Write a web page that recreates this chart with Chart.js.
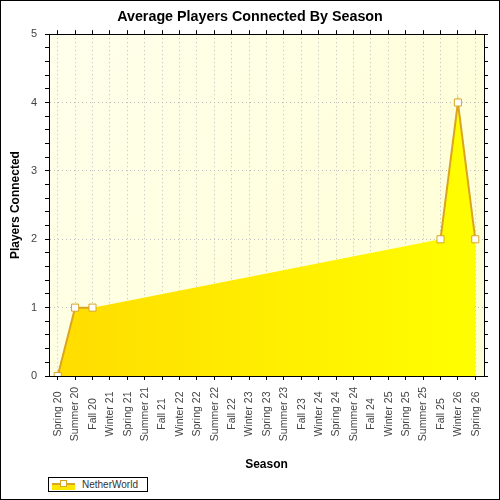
<!DOCTYPE html>
<html>
<head>
<meta charset="utf-8">
<script src="https://cdn.jsdelivr.net/npm/chart.js@4"></script>
<style>
html,body{margin:0;padding:0;background:#fff;}
#wrap{position:relative;width:500px;height:500px;}
canvas{display:block;}
#legend{position:absolute;left:48px;top:477px;width:98px;height:13px;border:1px solid #000;background:#fff;font:10px "Liberation Sans",Arial,sans-serif;color:#333;}
#legend .fill{position:absolute;left:3px;top:7px;width:23px;height:5px;background:#FFE600;}
#legend .line{position:absolute;left:3px;top:5px;width:23px;height:2px;background:#DAA520;}
#legend .mark{position:absolute;left:11px;top:2px;width:5px;height:5px;background:#fff;border:1px solid #DAA520;}
#legend .txt{position:absolute;left:33px;top:0;line-height:13px;}
</style>
</head>
<body>
<div id="wrap">
<canvas id="c" width="500" height="500"></canvas>
<div id="legend"><span class="fill"></span><span class="line"></span><span class="mark"></span><span class="txt">NetherWorld</span></div>
</div>
<script>
const chartTitle = 'Average Players Connected By Season';
const xTitle = 'Season';
const yTitle = 'Players Connected';
const seriesName = 'NetherWorld';
const seasons = ['Spring 20','Summer 20','Fall 20','Winter 21','Spring 21','Summer 21','Fall 21','Winter 22','Spring 22','Summer 22','Fall 22','Winter 23','Spring 23','Summer 23','Fall 23','Winter 24','Spring 24','Summer 24','Fall 24','Winter 25','Spring 25','Summer 25','Fall 25','Winter 26','Spring 26'];
const players = [0,1,1,null,null,null,null,null,null,null,null,null,null,null,null,null,null,null,null,null,null,null,2,4,2];
const yMin = 0, yMax = 5, yMinorStep = 0.2;

const FONT = '"Liberation Sans", Arial, sans-serif';
const isMajor = v => Math.abs(v - Math.round(v)) < 1e-6;

const framePlugin = {
  id: 'frame',
  beforeDraw(chart) {
    const ctx = chart.ctx, a = chart.chartArea;
    ctx.save();
    ctx.fillStyle = '#fff';
    ctx.fillRect(0, 0, chart.width, chart.height);
    const g = ctx.createLinearGradient(a.left, a.top, a.right, a.bottom);
    g.addColorStop(0, 'rgb(255,255,236)');
    g.addColorStop(1, 'rgb(255,255,212)');
    ctx.fillStyle = g;
    ctx.fillRect(a.left, a.top, a.right - a.left, a.bottom - a.top);
    ctx.restore();
  },
  afterDraw(chart) {
    const ctx = chart.ctx;
    ctx.save();
    ctx.strokeStyle = '#000';
    ctx.lineWidth = 1;
    ctx.strokeRect(0.5, 0.5, chart.width - 1, chart.height - 1);
    const sc = chart.scales.x;
    ctx.font = '10.5px ' + FONT;
    ctx.fillStyle = '#444';
    ctx.textAlign = 'center';
    ctx.textBaseline = 'middle';
    seasons.forEach((s, i) => {
      const x = sc.getPixelForValue(i);
      ctx.save();
      ctx.translate(x + 0.5, sc.top + 38);
      ctx.rotate(-Math.PI / 2);
      ctx.fillText(s, 0, 0);
      ctx.restore();
    });
    ctx.restore();
  }
};

const dotted = [1, 3];

new Chart(document.getElementById('c'), {
  type: 'line',
  data: {
    labels: seasons,
    datasets: [{
      label: seriesName,
      data: players,
      spanGaps: false,
      tension: 0,
      fill: false,
      borderColor: '#DAA520',
      borderWidth: 2,
      pointStyle: 'rect',
      pointRadius: 5,
      pointHoverRadius: 5,
      pointBackgroundColor: '#fff',
      pointBorderColor: '#DAA520',
      pointBorderWidth: 1,
      order: 0
    }, {
      label: seriesName + ' area',
      data: players,
      spanGaps: true,
      tension: 0,
      fill: 'origin',
      borderWidth: 0,
      borderColor: 'rgba(0,0,0,0)',
      pointRadius: 0,
      pointHoverRadius: 0,
      backgroundColor: (c) => {
        const a = c.chart.chartArea;
        if (!a) return '#FFEE00';
        const g = c.chart.ctx.createLinearGradient(a.left, 0, a.right, 0);
        g.addColorStop(0, '#FFDC00');
        g.addColorStop(1, '#FFFF00');
        return g;
      },
      order: 1
    }]
  },
  options: {
    responsive: false,
    animation: false,
    layout: { padding: { left: 0, right: 0, top: 0, bottom: 26 } },
    plugins: {
      legend: { display: false },
      tooltip: { enabled: false },
      title: {
        display: true,
        text: chartTitle,
        color: '#000',
        font: { family: FONT, size: 14.3, weight: 'bold' },
        padding: { top: 8.5, bottom: 4.5 }
      }
    },
    scales: {
      x: {
        type: 'category',
        position: 'bottom',
        offset: true,
        grid: { offset: false, color: '#BDBDBD', tickColor: '#000', tickLength: 4, lineWidth: 1 },
        border: { color: '#000', dash: dotted },
        ticks: { display: false },
        title: { display: true, text: xTitle, color: '#000', font: { family: FONT, size: 12, weight: 'bold' }, padding: { top: 0, bottom: 2 } },
        afterFit: s => { s.height = 98; }
      },
      x2: {
        type: 'category',
        labels: seasons,
        position: 'top',
        offset: true,
        grid: { offset: false, drawOnChartArea: false, tickColor: '#000', tickLength: 4 },
        border: { color: '#000' },
        ticks: { display: false },
        afterFit: s => { s.height = 4; }
      },
      y: {
        type: 'linear',
        position: 'left',
        min: yMin,
        max: yMax,
        grid: {
          color: c => (c.tick && isMajor(c.tick.value) && c.tick.value > yMin && c.tick.value < yMax) ? '#BDBDBD' : 'rgba(0,0,0,0)',
          tickColor: '#000',
          tickLength: 4
        },
        border: { color: '#000', dash: dotted },
        ticks: {
          stepSize: yMinorStep,
          autoSkip: false,
          padding: 8,
          color: '#444',
          font: { family: FONT, size: 11 },
          callback: v => isMajor(v) ? String(Math.round(v)) : ''
        },
        title: { display: true, text: yTitle, color: '#000', font: { family: FONT, size: 12, weight: 'bold' }, padding: { top: 8, bottom: 0 } },
        afterFit: s => { s.width = 49; }
      },
      y2: {
        type: 'linear',
        position: 'right',
        min: yMin,
        max: yMax,
        grid: { drawOnChartArea: false, tickColor: '#000', tickLength: 4 },
        border: { color: '#000' },
        ticks: { display: false, stepSize: yMinorStep, autoSkip: false },
        afterFit: s => { s.width = 16; }
      }
    }
  },
  plugins: [framePlugin]
});
</script>
</body>
</html>
